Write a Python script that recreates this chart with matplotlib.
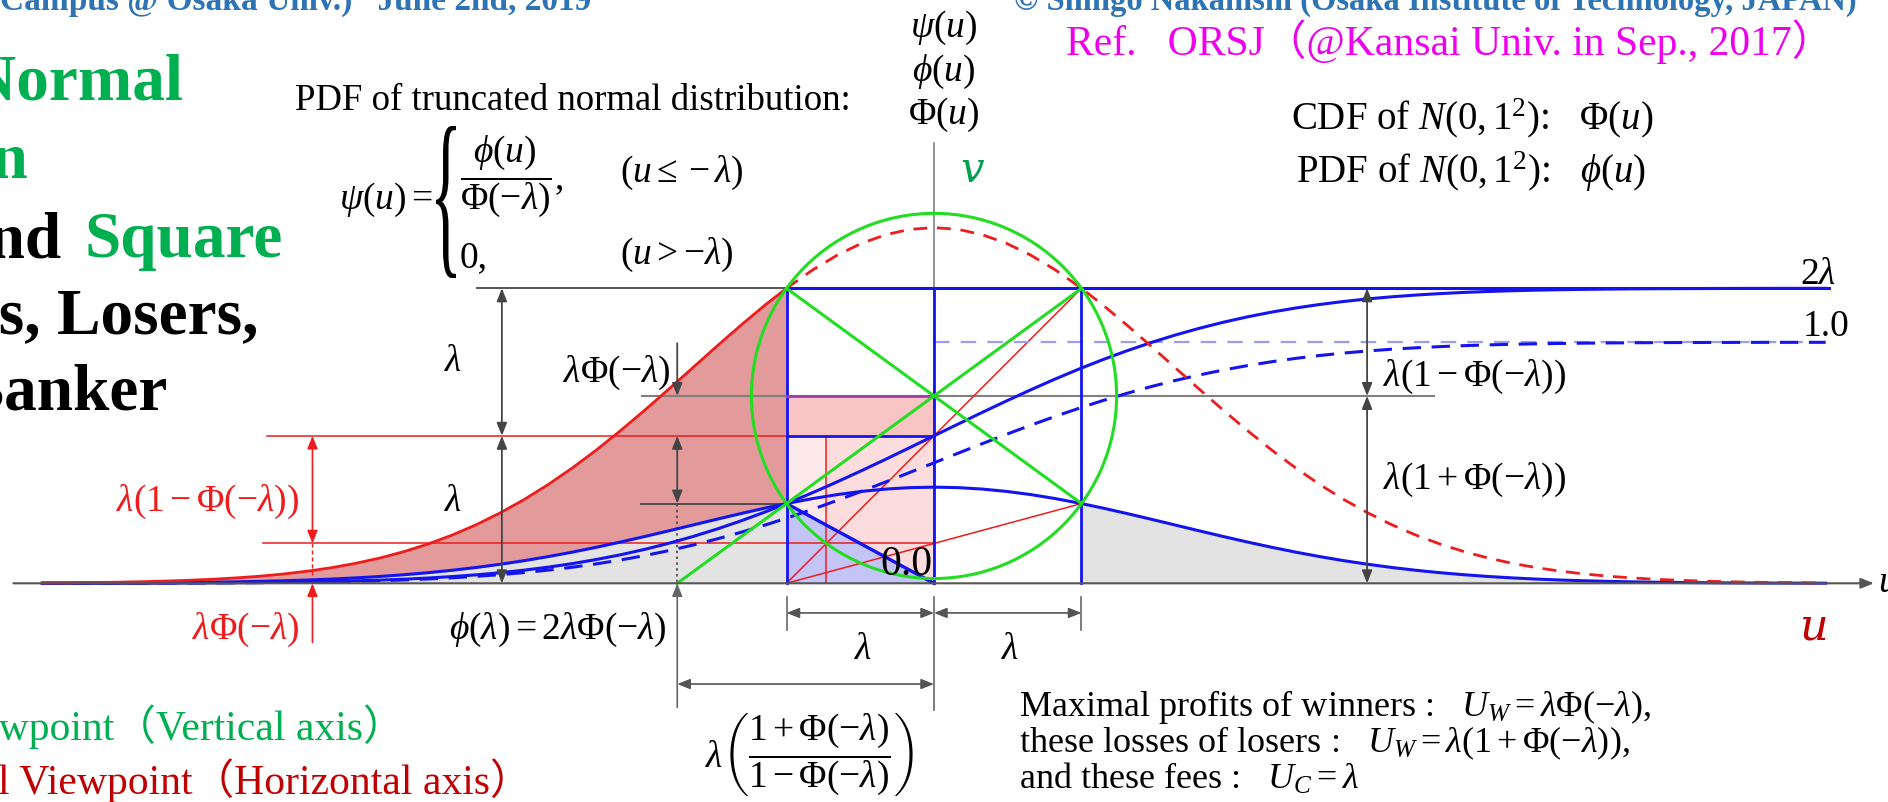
import numpy as np
import matplotlib
matplotlib.use('Agg')
import matplotlib.pyplot as plt
from matplotlib.patches import Circle, Polygon, Rectangle, PathPatch
from matplotlib.textpath import TextPath
from matplotlib.font_manager import FontProperties
from matplotlib.transforms import Affine2D

plt.rcParams['font.family'] = ['Liberation Serif', 'Noto Sans CJK JP', 'DejaVu Serif']
plt.rcParams['mathtext.fontset'] = 'custom'
plt.rcParams['mathtext.rm'] = 'Liberation Serif'
plt.rcParams['mathtext.it'] = 'Liberation Serif:italic'
plt.rcParams['mathtext.bf'] = 'Liberation Serif:bold'

# ---------------- data ----------------
LAM = 0.612        # lambda  (phi(lambda) = 2 lambda Phi(-lambda))
PHI_NEG = 0.2703   # Phi(-lambda)
ONE = 1.0          # level of the "1.0" guide

U = [-3.7, -3.6, -3.5, -3.4, -3.3, -3.2, -3.1, -3.0, -2.9, -2.8, -2.7, -2.6, -2.5, -2.4, -2.3,
     -2.2, -2.1, -2.0, -1.9, -1.8, -1.7, -1.6, -1.5, -1.4, -1.3, -1.2, -1.1, -1.0, -0.9, -0.8,
     -0.7, -0.612, -0.6, -0.5, -0.4, -0.3, -0.2, -0.1, 0.0, 0.1, 0.2, 0.3, 0.4, 0.5, 0.6, 0.612,
     0.7, 0.8, 0.9, 1.0, 1.1, 1.2, 1.3, 1.4, 1.5, 1.6, 1.7, 1.8, 1.9, 2.0, 2.1, 2.2, 2.3, 2.4,
     2.5, 2.6, 2.7, 2.8, 2.9, 3.0, 3.1, 3.2, 3.3, 3.4, 3.5, 3.6, 3.7]

# phi(u): PDF of N(0,1) (blue bell)
PDF = [0.0004, 0.0006, 0.0009, 0.0012, 0.0017, 0.0024, 0.0033, 0.0044, 0.0060, 0.0079, 0.0104,
       0.0136, 0.0175, 0.0224, 0.0283, 0.0355, 0.0440, 0.0540, 0.0656, 0.0790, 0.0940, 0.1109,
       0.1295, 0.1497, 0.1714, 0.1942, 0.2179, 0.2420, 0.2661, 0.2897, 0.3123, 0.3308,
       0.3332, 0.3521, 0.3683, 0.3814, 0.3910, 0.3970, 0.3989, 0.3970, 0.3910, 0.3814, 0.3683,
       0.3521, 0.3332, 0.3308,
       0.3123, 0.2897, 0.2661, 0.2420, 0.2179, 0.1942, 0.1714, 0.1497, 0.1295, 0.1109, 0.0940,
       0.0790, 0.0656, 0.0540, 0.0440, 0.0355, 0.0283, 0.0224, 0.0175, 0.0136, 0.0104, 0.0079,
       0.0060, 0.0044, 0.0033, 0.0024, 0.0017, 0.0012, 0.0009, 0.0006, 0.0004]

# psi(u): truncated PDF (red; solid for u <= -lambda, dashed beyond)
PSI = [0.0015, 0.0022, 0.0033, 0.0044, 0.0063, 0.0089, 0.0122, 0.0163, 0.0222, 0.0292, 0.0385,
       0.0503, 0.0647, 0.0829, 0.1047, 0.1313, 0.1628, 0.1998, 0.2427, 0.2923, 0.3478, 0.4103,
       0.4791, 0.5538, 0.6341, 0.7185, 0.8061, 0.8953, 0.9845, 1.0718, 1.1554, 1.2238,
       1.2327, 1.3026, 1.3625, 1.4110, 1.4465, 1.4687, 1.4758, 1.4687, 1.4465, 1.4110, 1.3625,
       1.3026, 1.2327, 1.2238,
       1.1554, 1.0718, 0.9845, 0.8953, 0.8061, 0.7185, 0.6341, 0.5538, 0.4791, 0.4103, 0.3478,
       0.2923, 0.2427, 0.1998, 0.1628, 0.1313, 0.1047, 0.0829, 0.0647, 0.0503, 0.0385, 0.0292,
       0.0222, 0.0163, 0.0122, 0.0089, 0.0063, 0.0044, 0.0033, 0.0022, 0.0015]

# Phi(u): CDF (blue dashed)
CDF = [0.0001, 0.0002, 0.0002, 0.0003, 0.0005, 0.0007, 0.0010, 0.0013, 0.0019, 0.0026, 0.0035,
       0.0047, 0.0062, 0.0082, 0.0107, 0.0139, 0.0179, 0.0228, 0.0287, 0.0359, 0.0446, 0.0548,
       0.0668, 0.0808, 0.0968, 0.1151, 0.1357, 0.1587, 0.1841, 0.2119, 0.2420, 0.2703,
       0.2743, 0.3085, 0.3446, 0.3821, 0.4207, 0.4602, 0.5000, 0.5398, 0.5793, 0.6179, 0.6554,
       0.6915, 0.7257, 0.7297,
       0.7580, 0.7881, 0.8159, 0.8413, 0.8643, 0.8849, 0.9032, 0.9192, 0.9332, 0.9452, 0.9554,
       0.9641, 0.9713, 0.9772, 0.9821, 0.9861, 0.9893, 0.9918, 0.9938, 0.9953, 0.9965, 0.9974,
       0.9981, 0.9987, 0.9990, 0.9993, 0.9995, 0.9997, 0.9998, 0.9998, 0.9999]

# 2*lambda*Phi(u) (blue solid rising to 2 lambda)
CDF2L = [0.0001, 0.0002, 0.0002, 0.0004, 0.0006, 0.0009, 0.0012, 0.0016, 0.0023, 0.0032, 0.0043,
         0.0058, 0.0076, 0.0100, 0.0131, 0.0170, 0.0219, 0.0279, 0.0351, 0.0439, 0.0546, 0.0671,
         0.0818, 0.0989, 0.1185, 0.1409, 0.1661, 0.1942, 0.2253, 0.2594, 0.2962, 0.3308,
         0.3357, 0.3776, 0.4218, 0.4677, 0.5149, 0.5633, 0.6120, 0.6607, 0.7091, 0.7563, 0.8022,
         0.8464, 0.8883, 0.8932,
         0.9278, 0.9646, 0.9987, 1.0298, 1.0579, 1.0831, 1.1055, 1.1251, 1.1422, 1.1569, 1.1694,
         1.1801, 1.1889, 1.1961, 1.2021, 1.2070, 1.2109, 1.2140, 1.2164, 1.2182, 1.2197, 1.2208,
         1.2217, 1.2224, 1.2228, 1.2231, 1.2234, 1.2236, 1.2238, 1.2238, 1.2239]

# derived levels
TWO_LAM = 2 * LAM
PHI_LAM = 2 * LAM * PHI_NEG            # phi(lambda)
MID = LAM * (1 + PHI_NEG)              # lambda(1+Phi(-lambda))
LOW = LAM * PHI_NEG                    # lambda Phi(-lambda)
UPP = LAM * (1 - PHI_NEG)              # lambda(1-Phi(-lambda))
FOOT = -LAM * (1 + PHI_NEG) / (1 - PHI_NEG)

u = np.array(U); pdf = np.array(PDF); psi = np.array(PSI)
cdf = np.array(CDF); cdf2 = np.array(CDF2L)

# ---------------- figure ----------------
W, H = 1888, 802
S = 241.0                 # pixels per unit
OX, OY = 934.0, 583.3     # pixel position of the origin
fig = plt.figure(figsize=(W / 100, H / 100), dpi=100)
ax = fig.add_axes([0, 0, 1, 1])
ax.set_xlim(-OX / S, (W - OX) / S)
ax.set_ylim(-(H - OY) / S, OY / S)
ax.axis('off')

BLUE = '#1414f0'
GREEN = '#22dd22'
RED = '#ee1c1c'
DARK = '#444444'
GRAY = '#808080'
MS = 27   # math label size


def T(xp, yp, s, **kw):
    kw.setdefault('ha', 'center')
    kw.setdefault('va', 'center')
    kw.setdefault('fontsize', MS)
    fig.text(xp / W, 1 - yp / H, s, **kw)


def arrow(u0, v0, u1, v1, style='<|-|>', color=DARK, lw=1.3):
    ax.annotate('', xy=(u1, v1), xytext=(u0, v0),
                arrowprops=dict(arrowstyle=style + ',head_length=0.55,head_width=0.22',
                                color=color, lw=lw, shrinkA=0, shrinkB=0, mutation_scale=14),
                zorder=6)


left = u <= -LAM + 1e-9
right = u >= LAM - 1e-9
# fills
ax.fill_between(u, 0, pdf, where=left, color='#e3e3e3', lw=0, zorder=1)
ax.fill_between(u, 0, pdf, where=right, color='#e3e3e3', lw=0, zorder=1)
ax.fill_between(u, pdf, psi, where=left, color='#e39a9a', lw=0, zorder=1)
ax.add_patch(Rectangle((-LAM, 0), LAM, MID, color='#fcdcdc', lw=0, zorder=1))
ax.add_patch(Rectangle((-LAM, 0), LAM - UPP, LAM, color='#fde9e9', lw=0, zorder=1))
ax.add_patch(Rectangle((-LAM, LAM), LAM, MID - LAM, color='#f8c4c4', lw=0, zorder=1))
ax.add_patch(Polygon([(-LAM, PHI_LAM), (-LAM, 0), (0, 0)], closed=True,
                     color='#c4c4f6', lw=0, zorder=1.2))

# axes lines
ax.plot([0, 0], [0, 1.826], color=GRAY, lw=1.2, zorder=2)
arrow(-3.82, 0, 3.90, 0, style='-|>', color='#555555', lw=1.5)

# gray guide lines
ax.plot([-1.896, -LAM], [TWO_LAM, TWO_LAM], color=DARK, lw=1.3, zorder=2)
ax.plot([-1.212, 2.075], [MID, MID], color=GRAY, lw=1.5, zorder=2)
ax.plot([-1.216, -LAM], [PHI_LAM, PHI_LAM], color=DARK, lw=1.3, zorder=2)

# thin red construction lines
ax.plot([-2.768, -LAM], [LAM, LAM], color=RED, lw=1.1, zorder=2)
ax.plot([-2.784, 0], [LOW, LOW], color=RED, lw=1.1, zorder=2)
ax.plot([-UPP, -UPP], [0, LAM], color=RED, lw=1.1, zorder=2)
ax.plot([-LAM, LAM], [0, TWO_LAM], color=RED, lw=1.1, zorder=2)
ax.plot([-LAM, LAM], [0, PHI_LAM], color=RED, lw=1.1, zorder=2)

# light blue 1.0 guide
ax.plot([0, 3.651], [ONE, ONE], color='#9c9cf2', lw=1.6, dashes=(7, 5), zorder=2)

# blue frame
for x in (-LAM, 0, LAM):
    ax.plot([x, x], [0, TWO_LAM], color=BLUE, lw=2.0, zorder=3)
ax.plot([-LAM, 3.714], [TWO_LAM, TWO_LAM], color=BLUE, lw=2.2, zorder=3)
ax.plot([-LAM, 0], [LAM, LAM], color=BLUE, lw=2.0, zorder=3)
ax.plot([-LAM, 0], [PHI_LAM, 0], color=BLUE, lw=2.4, zorder=3)
ax.plot([-LAM, 0], [MID, MID], color='#a03cac', lw=2.0, zorder=3)

# curves
ax.plot(u, pdf, color=BLUE, lw=2.2, zorder=4)
ax.plot(u, cdf2, color=BLUE, lw=2.2, zorder=4)
ax.plot(u, cdf, color=BLUE, lw=2.2, dashes=(6, 3.5), zorder=4)
ax.plot(u[left], psi[left], color=RED, lw=2.0, zorder=4)
ax.plot(u[u >= -LAM - 1e-9], psi[u >= -LAM - 1e-9], color=RED, lw=2.0, dashes=(5, 3.5), zorder=4)

# green circle and square diagonals
ax.add_patch(Circle((0, MID), np.hypot(LAM, TWO_LAM - MID), fill=False, ec=GREEN, lw=2.2, zorder=5))
ax.plot([-LAM, LAM], [TWO_LAM, PHI_LAM], color=GREEN, lw=2.2, zorder=5)
ax.plot([FOOT, LAM], [0, TWO_LAM], color=GREEN, lw=2.2, zorder=5)

# dimension arrows
arrow(-1.793, TWO_LAM, -1.793, LAM)
arrow(-1.793, LAM, -1.793, 0)
arrow(1.797, TWO_LAM, 1.797, MID)
arrow(1.797, MID, 1.797, 0)
arrow(FOOT, 0.996, FOOT, MID, style='-|>')
arrow(FOOT, LAM, FOOT, PHI_LAM)
ax.plot([FOOT, FOOT], [PHI_LAM, 0], color=DARK, lw=1.2, ls=(0, (1.5, 2)), zorder=2)
arrow(FOOT, -0.515, FOOT, 0, style='-|>', color='#666666', lw=1.2)
arrow(-2.579, LAM, -2.579, LOW, color=RED, lw=1.2)
ax.plot([-2.579, -2.579], [LOW, 0], color=RED, lw=1.0, ls=(0, (3, 2)), zorder=2)
arrow(-2.579, -0.245, -2.579, 0, style='-|>', color=RED, lw=1.2)
# below axis
for x, lo in ((-LAM, -0.195), (0, -0.527), (LAM, -0.195)):
    ax.plot([x, x], [-0.058, lo], color='#666666', lw=1.2, zorder=2)
arrow(-LAM, -0.123, 0, -0.123, color='#555555', lw=1.2)
arrow(0, -0.123, LAM, -0.123, color='#555555', lw=1.2)
arrow(FOOT, -0.418, 0, -0.418, color='#555555', lw=1.2)

# ---------------- text ----------------
T(0, 10, 'Campus @ Osaka Univ.)   June 2nd, 2019', ha='left', va='baseline',
  fontsize=24, fontweight='bold', color='#2e74b5')
T(1014, 10, '\u00a9 Shingo Nakanishi (Osaka Institute of Technology, JAPAN)', ha='left',
  va='baseline', fontsize=23.5, fontweight='bold', color='#2e74b5')
T(1066, 55, 'Ref.   ORSJ\uff08@Kansai Univ. in Sep., 2017\uff09', ha='left', va='baseline',
  fontsize=30, color='#ee00ee')

TS = 47
T(183, 100, 'Truncated Normal', ha='right', va='baseline', fontsize=TS, fontweight='bold', color='#00b050')
T(29, 178, 'Distribution', ha='right', va='baseline', fontsize=TS, fontweight='bold', color='#00b050')
T(62, 257, 'and', ha='right', va='baseline', fontsize=TS, fontweight='bold', color='black')
T(85, 257, 'Square', ha='left', va='baseline', fontsize=TS, fontweight='bold', color='#00b050')
T(259, 333, 'Winners, Losers,', ha='right', va='baseline', fontsize=TS, fontweight='bold', color='black')
T(167, 410, 'and Banker', ha='right', va='baseline', fontsize=TS, fontweight='bold', color='black')

T(295, 110, 'PDF of truncated normal distribution:', ha='left', va='baseline', fontsize=26.5)
T(433, 200, r'$\psi(u)=$', ha='right')
# piecewise brace
fp = FontProperties(family='Liberation Serif')
bp = TextPath((0, 0), '{', size=1, prop=fp)
ex = bp.get_extents()
bw, bh, bx, byb = 20, 152, 436, 278
tr = Affine2D().translate(-ex.x0, -ex.y0).scale(bw / ex.width, bh / ex.height).translate(bx, H - byb)
fig.add_artist(PathPatch(bp, transform=tr, fc='black', ec='none'))
T(460, 176, r'$\dfrac{\phi(u)}{\Phi(-\lambda)},$', ha='left')
T(620, 173, r'$(u\leq-\lambda)$', ha='left')
T(460, 258, '0,', ha='left', fontsize=MS)
T(620, 255, r'$(u>-\lambda)$', ha='left')

T(944, 28, r'$\psi(u)$')
T(944, 72, r'$\phi(u)$')
T(944, 115, r'$\Phi(u)$')
T(972, 170, 'v', color='#00a050', fontsize=30, family='DejaVu Serif', style='italic')
T(1291, 118, r'CDF of $N(0,1^2)$:   $\Phi(u)$', ha='left', fontsize=28)
T(1296, 172, r'PDF of $N(0,1^2)$:   $\phi(u)$', ha='left', fontsize=28)

T(1800, 275, r'$2\lambda$', ha='left')
T(1803, 327, '1.0', ha='left')
T(1383, 377, r'$\lambda(1-\Phi(-\lambda))$', ha='left')
T(1383, 480, r'$\lambda(1+\Phi(-\lambda))$', ha='left')

T(453, 362, r'$\lambda$')
T(453, 502, r'$\lambda$')
T(670, 373, r'$\lambda\Phi(-\lambda)$', ha='right')
T(299, 502, r'$\lambda(1-\Phi(-\lambda))$', ha='right', color='#ee1c1c')
T(299, 630, r'$\lambda\Phi(-\lambda)$', ha='right', color='#ee1c1c')
T(667, 630, r'$\phi(\lambda)=2\lambda\Phi(-\lambda)$', ha='right')
T(906, 565, '0.0', fontsize=30)
T(863, 650, r'$\lambda$')
T(1010, 650, r'$\lambda$')
T(705, 755, r'$\lambda\left(\dfrac{1+\Phi(-\lambda)}{1-\Phi(-\lambda)}\right)$', ha='left')

T(1878, 583, r'$u$', ha='left')
T(1814, 627, 'u', color='#c00000', fontsize=32, family='DejaVu Serif', style='italic')

FS = 26
T(1019, 707, r'Maximal profits of winners :   $U_W=\lambda\Phi(-\lambda)$,', ha='left', fontsize=FS)
T(1019, 743, r'these losses of losers :   $U_W=\lambda(1+\Phi(-\lambda))$,', ha='left', fontsize=FS)
T(1019, 779, r'and these fees :   $U_C=\lambda$', ha='left', fontsize=FS)

T(405, 727, 'Winners\u2019 Viewpoint\uff08Vertical axis\uff09', ha='right', fontsize=30, color='#00b050')
T(532, 781, 'Banker\u2019s Total Viewpoint\uff08Horizontal axis\uff09', ha='right', fontsize=30, color='#c00000')

fig.savefig('out.png', dpi=100)
